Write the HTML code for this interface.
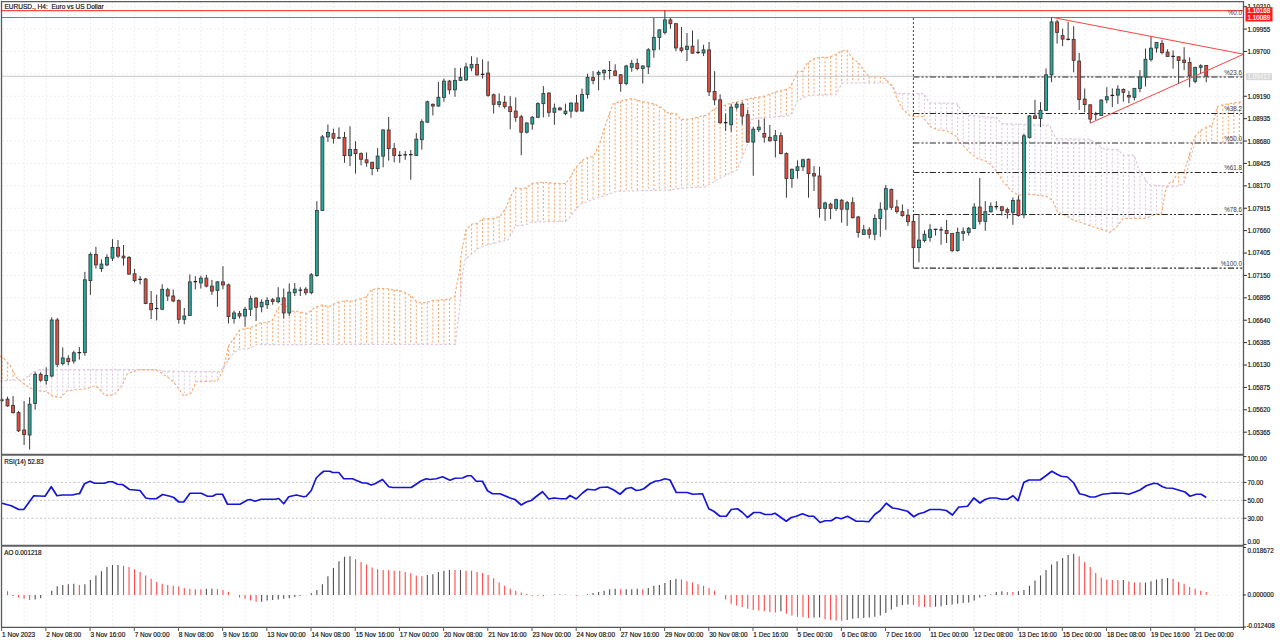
<!DOCTYPE html>
<html><head><meta charset="utf-8"><style>
html,body{margin:0;padding:0;background:#fff;}
body{width:1280px;height:642px;overflow:hidden;}
svg{display:block;}
.t{font-family:"Liberation Sans",sans-serif;font-size:6.8px;fill:#111;stroke:#111;stroke-width:0.18px;}
.t2{font-family:"Liberation Sans",sans-serif;font-size:6.6px;fill:#1a1a1a;}
</style></head><body>
<svg width="1280" height="642" viewBox="0 0 1280 642">
<rect width="1280" height="642" fill="#fff"/>
<path d="M24.20 2V454M24.20 456V545M24.20 547V627M46.29 2V454M46.29 456V545M46.29 547V627M68.39 2V454M68.39 456V545M68.39 547V627M90.48 2V454M90.48 456V545M90.48 547V627M112.58 2V454M112.58 456V545M112.58 547V627M134.68 2V454M134.68 456V545M134.68 547V627M156.77 2V454M156.77 456V545M156.77 547V627M178.87 2V454M178.87 456V545M178.87 547V627M200.96 2V454M200.96 456V545M200.96 547V627M223.06 2V454M223.06 456V545M223.06 547V627M245.16 2V454M245.16 456V545M245.16 547V627M267.25 2V454M267.25 456V545M267.25 547V627M289.35 2V454M289.35 456V545M289.35 547V627M311.44 2V454M311.44 456V545M311.44 547V627M333.54 2V454M333.54 456V545M333.54 547V627M355.64 2V454M355.64 456V545M355.64 547V627M377.73 2V454M377.73 456V545M377.73 547V627M399.83 2V454M399.83 456V545M399.83 547V627M421.92 2V454M421.92 456V545M421.92 547V627M444.02 2V454M444.02 456V545M444.02 547V627M466.12 2V454M466.12 456V545M466.12 547V627M488.21 2V454M488.21 456V545M488.21 547V627M510.31 2V454M510.31 456V545M510.31 547V627M532.40 2V454M532.40 456V545M532.40 547V627M554.50 2V454M554.50 456V545M554.50 547V627M576.60 2V454M576.60 456V545M576.60 547V627M598.69 2V454M598.69 456V545M598.69 547V627M620.79 2V454M620.79 456V545M620.79 547V627M642.88 2V454M642.88 456V545M642.88 547V627M664.98 2V454M664.98 456V545M664.98 547V627M687.08 2V454M687.08 456V545M687.08 547V627M709.17 2V454M709.17 456V545M709.17 547V627M731.27 2V454M731.27 456V545M731.27 547V627M753.36 2V454M753.36 456V545M753.36 547V627M775.46 2V454M775.46 456V545M775.46 547V627M797.56 2V454M797.56 456V545M797.56 547V627M819.65 2V454M819.65 456V545M819.65 547V627M841.75 2V454M841.75 456V545M841.75 547V627M863.84 2V454M863.84 456V545M863.84 547V627M885.94 2V454M885.94 456V545M885.94 547V627M908.04 2V454M908.04 456V545M908.04 547V627M930.13 2V454M930.13 456V545M930.13 547V627M952.23 2V454M952.23 456V545M952.23 547V627M974.32 2V454M974.32 456V545M974.32 547V627M996.42 2V454M996.42 456V545M996.42 547V627M1018.52 2V454M1018.52 456V545M1018.52 547V627M1040.61 2V454M1040.61 456V545M1040.61 547V627M1062.71 2V454M1062.71 456V545M1062.71 547V627M1084.80 2V454M1084.80 456V545M1084.80 547V627M1106.90 2V454M1106.90 456V545M1106.90 547V627M1129.00 2V454M1129.00 456V545M1129.00 547V627M1151.09 2V454M1151.09 456V545M1151.09 547V627M1173.19 2V454M1173.19 456V545M1173.19 547V627M1195.28 2V454M1195.28 456V545M1195.28 547V627M1217.38 2V454M1217.38 456V545M1217.38 547V627M1239.48 2V454M1239.48 456V545M1239.48 547V627" stroke="#efeff2" stroke-width="1" stroke-dasharray="2 2" fill="none"/>
<path d="M2 6.68H1243.5M2 29.08H1243.5M2 51.47H1243.5M2 73.87H1243.5M2 96.26H1243.5M2 118.66H1243.5M2 141.06H1243.5M2 163.45H1243.5M2 185.85H1243.5M2 208.24H1243.5M2 230.64H1243.5M2 253.04H1243.5M2 275.43H1243.5M2 297.83H1243.5M2 320.22H1243.5M2 342.62H1243.5M2 365.02H1243.5M2 387.41H1243.5M2 409.81H1243.5M2 432.20H1243.5" stroke="#efeff2" stroke-width="1" stroke-dasharray="2 2" fill="none"/>
<path d="M2 482.38H1243.5M2 500.33H1243.5M2 518.28H1243.5" stroke="#c6c6c6" stroke-width="1" stroke-dasharray="2.2 2" fill="none"/>
<path d="M2 595H1243.5" stroke="#efeff2" stroke-width="1" stroke-dasharray="2 2" fill="none"/>
<path d="M24.10 378.99V384.05M29.62 374.96V387.63M35.14 371.17V389.58M40.67 369.60V391.20M46.19 369.60V391.55M51.72 369.60V395.52M57.24 369.60V396.84M62.76 369.60V395.36M68.29 369.60V390.59M73.81 369.60V390.12M79.34 369.60V389.49M84.86 369.60V388.86M90.38 369.60V387.32M95.91 369.60V386.01M101.43 369.60V391.59M106.96 369.60V395.58M112.48 369.60V394.68M118.00 369.60V390.37M123.53 369.60V382.11M129.05 369.60V373.07M134.58 369.60V371.20M140.10 369.60V369.80M145.62 369.60V369.80M151.15 369.60V369.80M156.67 369.71V370.17M162.20 370.82V373.72M167.72 371.14V377.26M173.24 371.20V382.04M178.77 371.26V388.88M184.29 371.32V395.77M189.82 371.38V393.90M195.34 371.44V383.26M200.86 371.50V381.54M206.39 371.56V381.36M211.91 371.62V381.17M217.44 371.68V380.57M222.96 367.51V370.59M891.36 84.60V85.79M896.89 93.60V98.18M902.41 93.60V108.78M907.94 93.60V113.87M913.46 93.60V116.37M918.98 93.60V116.50M924.51 94.80V119.02M930.03 102.91V125.88M935.56 103.02V128.93M941.08 103.12V130.34M946.60 103.22V130.69M952.13 103.32V133.76M957.65 105.12V138.98M963.18 112.50V145.73M968.70 115.13V151.48M974.22 115.67V155.97M979.75 116.21V159.17M985.27 116.70V161.00M990.80 117.13V165.10M996.32 117.56V170.81M1001.84 123.63V179.70M1007.37 123.85V186.39M1012.89 124.06V191.81M1018.42 124.28V195.09M1023.94 124.49V194.66M1029.46 124.70V194.39M1034.99 124.92V194.94M1040.51 125.13V195.48M1046.04 125.35V196.21M1051.56 129.79V199.65M1057.08 138.63V210.85M1062.61 138.75V214.24M1068.13 138.88V216.86M1073.66 139.01V220.17M1079.18 139.14V221.91M1084.70 139.26V223.89M1090.23 139.39V225.87M1095.75 143.73V227.62M1101.28 147.07V229.35M1106.80 149.05V231.38M1112.32 149.37V230.47M1117.85 149.69V225.56M1123.37 154.91V218.30M1128.90 155.16V218.30M1134.42 155.79V218.30M1139.94 171.42V218.30M1145.47 179.74V218.27M1150.99 185.02V216.09M1156.52 185.34V214.31M1162.04 185.67V210.88" stroke="#dcc8e0" stroke-width="1.1" stroke-dasharray="2 2" fill="none"/>
<path d="M2.00 356.96V380.87M7.52 362.48V380.52M13.05 371.00V380.16M18.57 379.45V379.81M228.48 346.08V360.00M234.01 338.09V353.14M239.53 330.10V349.21M245.06 328.59V348.78M250.58 327.71V348.07M256.10 324.92V344.89M261.63 322.86V344.59M267.15 322.42V344.58M272.68 319.31V344.58M278.20 308.22V344.57M283.72 305.34V344.56M289.25 308.46V344.55M294.77 311.40V344.54M300.30 311.92V344.53M305.82 313.24V344.53M311.34 310.26V344.52M316.87 306.70V344.51M322.39 304.96V344.50M327.92 306.62V344.49M333.44 304.33V344.48M338.96 302.10V344.48M344.49 300.87V344.47M350.01 301.00V344.46M355.54 300.31V344.45M361.06 298.55V344.44M366.58 296.27V344.43M372.11 289.68V344.43M377.63 288.41V344.42M383.16 288.57V344.41M388.68 288.95V344.40M394.20 289.97V344.39M399.73 290.59V344.38M405.25 292.67V344.38M410.78 295.91V344.37M416.30 301.31V344.36M421.82 302.92V344.35M427.35 302.38V344.34M432.87 300.45V344.33M438.40 300.04V344.33M443.92 299.63V344.32M449.44 298.89V344.31M454.97 295.27V344.30M460.49 261.60V297.52M466.02 229.68V258.82M471.54 224.19V254.07M477.06 223.31V249.31M482.59 219.09V246.69M488.11 218.65V244.64M493.64 218.28V243.38M499.16 216.37V242.12M504.68 209.52V240.86M510.21 197.26V235.92M515.73 187.85V226.06M521.26 188.66V225.48M526.78 187.66V224.27M532.30 183.49V222.00M537.83 182.80V221.90M543.35 182.12V221.80M548.88 182.77V221.70M554.40 183.46V221.60M559.92 183.50V221.51M565.45 183.50V221.41M570.97 175.80V215.53M576.50 166.60V208.88M582.02 161.08V203.66M587.54 157.76V201.59M593.07 156.38V199.53M598.59 145.84V197.50M604.12 128.64V195.64M609.64 113.27V193.78M615.16 103.23V191.92M620.69 101.25V191.13M626.21 99.67V191.01M631.74 98.66V190.90M637.26 100.05V190.78M642.78 101.69V190.67M648.31 102.79V190.55M653.83 103.89V190.43M659.36 106.48V190.32M664.88 110.52V190.20M670.40 113.07V189.98M675.93 113.77V189.01M681.45 119.39V188.22M686.98 119.17V187.94M692.50 118.50V187.65M698.02 117.13V187.36M703.55 115.76V187.07M709.07 113.40V184.53M714.60 108.76V181.26M720.12 106.78V178.23M725.64 104.97V175.46M731.17 103.26V172.68M736.69 101.88V169.91M742.22 100.50V157.36M747.74 99.11V141.74M753.26 98.02V119.03M758.79 97.09V118.19M764.31 96.17V117.77M769.84 94.15V117.34M775.36 92.14V116.91M780.88 90.75V116.49M786.41 89.09V116.06M791.93 83.74V113.35M797.46 72.14V100.88M802.98 70.49V97.87M808.50 62.45V95.48M814.03 58.65V95.24M819.55 57.31V95.08M825.08 57.30V94.92M830.60 56.65V94.76M836.12 54.32V94.37M841.65 50.96V84.03M847.17 50.59V83.00M852.70 58.30V83.00M858.22 62.49V83.00M863.74 70.03V83.00M869.27 76.57V83.00M874.79 76.70V83.00M880.32 76.70V83.00M885.84 79.30V83.00M1167.56 185.91V186.22M1173.09 181.06V186.80M1178.61 172.60V185.60M1184.14 172.15V182.98M1189.66 153.96V161.88M1195.18 136.37V143.00M1200.71 130.63V143.00M1206.23 127.30V143.00M1211.76 125.84V143.00M1217.28 107.18V143.00M1222.80 104.86V143.00M1228.33 103.87V143.00M1233.85 102.91V143.00M1239.38 102.10V143.00" stroke="#f6ac74" stroke-width="1.1" stroke-dasharray="2 2" fill="none"/>
<path d="M0.0 381.0L23.4 379.5L34.5 371.4L39.6 369.6L156.1 369.6L163.6 371.1L219.7 371.7L226.0 363.6L232.0 354.9L238.4 349.3L250.0 348.4L256.6 344.6L455.3 344.3L459.7 307.4L462.2 276.2L465.0 259.7L478.0 248.5L487.4 244.8L508.0 240.1L515.4 226.1L524.8 225.1L532.2 222.0L565.9 221.4L570.0 216.7L580.3 204.3L597.7 197.8L617.3 191.2L669.7 190.1L680.0 188.3L704.9 187.0L717.4 179.6L737.3 169.6L747.3 144.7L751.0 119.8L754.8 118.5L787.2 116.0L791.6 114.1L797.8 100.1L808.7 95.4L836.0 94.6L842.2 83.0L888.1 83.0L892.8 85.3L896.5 93.6L923.8 93.6L929.3 102.9L956.5 103.4L962.0 111.6L966.3 114.9L982.7 116.5L996.9 117.6L1001.0 123.6L1050.0 125.5L1052.0 131.0L1056.0 138.6L1090.6 139.4L1095.7 143.7L1104.3 148.9L1118.0 149.7L1123.1 154.9L1134.3 155.4L1138.6 169.4L1148.9 184.9L1162.6 185.7L1175.0 187.0L1184.0 183.5L1193.4 147.6L1195.0 143.0L1241.0 143.0" stroke="#dcc8e0" stroke-width="1.2" stroke-dasharray="2.5 2" fill="none"/>
<path d="M0.0 356.0L2.5 357.2L10.2 365.3L16.3 377.5L23.4 383.6L30.5 388.2L40.6 391.2L45.7 391.2L52.8 396.3L61.0 397.3L67.0 390.7L73.1 390.2L86.3 388.7L95.5 385.6L105.6 395.8L114.8 394.3L121.9 385.6L127.5 373.6L138.7 369.8L156.1 369.8L169.8 378.6L176.0 384.8L183.6 396.0L191.0 393.5L196.0 381.7L217.2 381.0L223.4 369.8L228.4 346.2L239.6 330.0L245.0 328.6L250.0 328.0L259.9 323.0L267.4 322.4L272.4 319.9L277.4 309.3L281.1 304.3L287.4 306.8L292.3 311.2L299.8 311.8L307.3 313.6L314.8 307.4L322.2 304.9L328.5 306.8L333.5 304.3L339.7 301.8L345.9 300.6L352.1 301.2L357.1 299.9L366.2 296.8L371.2 289.9L377.4 288.4L387.4 288.7L393.6 289.9L399.8 290.6L404.8 292.4L412.3 296.8L416.0 301.2L421.0 303.0L427.3 302.4L432.2 300.5L448.4 299.3L454.7 296.8L457.2 282.5L459.7 270.0L461.2 254.1L465.9 229.8L471.5 224.2L477.1 223.3L482.7 219.0L494.9 218.2L500.5 215.8L506.1 207.4L509.8 198.0L515.4 187.8L521.0 188.7L526.6 187.8L532.2 183.5L543.5 182.1L554.7 183.5L565.9 183.5L570.0 177.5L575.9 167.2L584.6 158.5L593.4 156.3L599.9 143.2L604.3 128.0L613.0 104.0L623.9 100.1L632.6 98.5L641.3 101.4L654.4 104.0L661.0 107.3L667.5 112.7L676.2 113.8L680.6 119.3L683.4 119.6L692.5 118.5L707.4 114.8L714.9 108.5L729.8 103.6L749.8 98.6L764.7 96.1L774.7 92.3L784.7 89.8L790.0 87.6L796.2 75.2L797.8 71.3L802.5 71.3L807.1 63.5L813.4 58.8L819.6 57.3L828.9 57.3L835.2 54.9L841.4 51.0L846.9 50.2L852.3 58.0L858.5 62.7L866.3 73.6L869.4 76.7L881.9 76.7L886.6 79.8L892.8 87.6L896.5 97.4L902.0 108.4L909.6 115.4L914.0 116.5L922.7 116.5L927.0 122.5L931.4 127.4L939.0 130.2L946.7 130.7L955.4 135.6L959.8 142.2L968.6 151.4L977.1 158.3L987.4 161.7L996.0 170.3L1002.9 181.4L1011.4 190.9L1018.3 195.1L1028.6 194.3L1045.7 196.0L1052.6 200.3L1057.7 212.3L1066.3 215.7L1073.1 220.0L1078.6 221.7L1090.6 226.0L1104.3 230.3L1109.4 232.5L1116.3 227.7L1123.1 218.3L1145.4 218.3L1154.0 214.9L1161.7 213.1L1163.4 202.0L1166.0 188.3L1169.4 183.1L1172.9 181.4L1177.8 172.6L1184.0 172.6L1194.9 136.7L1199.6 131.3L1207.4 126.6L1212.0 125.8L1217.5 106.4L1223.0 104.8L1238.5 102.1L1241.0 102.1" stroke="#f6ac74" stroke-width="1.15" stroke-dasharray="2.5 2" fill="none"/>
<path d="M2 76.3H1243.5" stroke="#c8c8c8" stroke-width="1" fill="none"/>
<path d="M2 10.6H1243.5M2 17.5H1243.5" stroke="#ff4a4a" stroke-width="1.05" fill="none"/>
<path d="M913.4 77.02H1243.5M913.4 113.54H1243.5M913.4 143.05H1243.5M913.4 172.56H1243.5M913.4 214.58H1243.5M913.4 268.10H1243.5" stroke="#2a2a2a" stroke-width="1.05" stroke-dasharray="6.2 2.07 2.07 2.07 2.07 2.08" stroke-dashoffset="0.2" fill="none"/>
<path d="M913.4 18.0V214" stroke="#404040" stroke-width="1" stroke-dasharray="2 2" fill="none"/>
<path d="M913.4 214V268.1" stroke="#404040" stroke-width="1" fill="none"/>
<text x="1242.00" y="14.70" class="t" text-anchor="end" style="fill:#3a3a3a;stroke:none" textLength="14.26" lengthAdjust="spacingAndGlyphs">%0.0</text>
<text x="1242.00" y="74.60" class="t" text-anchor="end" style="fill:#3a3a3a;stroke:none" textLength="17.74" lengthAdjust="spacingAndGlyphs">%23.6</text>
<text x="1242.00" y="111.00" class="t" text-anchor="end" style="fill:#3a3a3a;stroke:none" textLength="17.74" lengthAdjust="spacingAndGlyphs">%38.2</text>
<text x="1242.00" y="140.60" class="t" text-anchor="end" style="fill:#3a3a3a;stroke:none" textLength="17.74" lengthAdjust="spacingAndGlyphs">%50.0</text>
<text x="1242.00" y="170.20" class="t" text-anchor="end" style="fill:#3a3a3a;stroke:none" textLength="17.74" lengthAdjust="spacingAndGlyphs">%61.8</text>
<text x="1242.00" y="212.00" class="t" text-anchor="end" style="fill:#3a3a3a;stroke:none" textLength="17.74" lengthAdjust="spacingAndGlyphs">%78.6</text>
<text x="1242.00" y="266.00" class="t" text-anchor="end" style="fill:#3a3a3a;stroke:none" textLength="21.22" lengthAdjust="spacingAndGlyphs">%100.0</text>
<path d="M2.00 398.50V402.00M7.52 396.70V406.70M13.05 396.00V413.60M18.57 410.90V432.00M24.10 401.00V445.00M29.62 397.20V449.50M35.14 372.30V409.70M40.67 372.30V381.70M46.19 367.30V384.70M51.72 317.40V377.30M57.24 318.00V367.30M62.76 347.40V365.30M68.29 355.30V365.30M73.81 350.60V363.60M79.34 347.00V359.70M84.86 271.80V355.80M90.38 252.40V294.80M95.91 246.90V268.60M101.43 259.40V271.80M106.96 254.40V266.10M112.48 239.20V261.10M118.00 240.00V257.90M123.53 245.00V265.60M129.05 256.10V274.80M134.58 268.80V282.30M140.10 276.00V284.30M145.62 278.00V304.20M151.15 291.00V319.00M156.67 294.80V320.40M162.20 284.30V310.20M167.72 287.80V301.00M173.24 289.60V302.20M178.77 299.30V323.50M184.29 308.00V324.30M189.82 274.40V316.00M195.34 276.20V289.40M200.86 275.70V288.60M206.39 274.90V287.40M211.91 279.90V294.90M217.44 281.20V306.80M222.96 266.20V289.40M228.48 283.60V323.50M234.01 310.60V323.50M239.53 311.00V318.50M245.06 306.80V326.80M250.58 295.60V316.00M256.10 297.40V321.00M261.63 299.30V312.30M267.15 297.20V308.90M272.68 297.90V304.70M278.20 287.20V303.40M283.72 288.50V318.40M289.25 283.50V315.90M294.77 283.00V296.00M300.30 287.20V296.00M305.82 287.20V295.20M311.34 273.00V294.20M316.87 201.20V276.80M322.39 134.90V210.90M327.92 124.50V141.90M333.44 128.70V143.60M338.96 127.40V138.70M344.49 131.90V162.80M350.01 126.20V166.10M355.54 141.20V173.60M361.06 152.40V165.30M366.58 152.40V166.80M372.11 161.80V175.30M377.63 148.10V171.80M383.16 129.40V167.30M388.68 117.00V160.60M394.20 143.10V162.30M399.73 151.10V162.80M405.25 151.10V159.80M410.78 150.00V179.70M416.30 133.00V155.90M421.82 119.30V149.70M427.35 100.60V122.70M432.87 103.60V115.50M438.40 81.90V106.80M443.92 78.60V101.80M449.44 79.90V94.30M454.97 67.90V96.80M460.49 67.90V81.10M466.02 62.90V81.10M471.54 56.20V71.20M477.06 57.40V75.60M482.59 59.40V78.60M488.11 61.20V96.80M493.64 93.60V113.50M499.16 93.30V107.30M504.68 95.80V108.60M510.21 96.10V129.30M515.73 97.40V121.80M521.26 114.80V155.20M526.78 122.30V133.50M532.30 116.00V129.70M537.83 102.30V117.80M543.35 86.10V117.30M548.88 92.40V116.80M554.40 103.60V124.80M559.92 106.80V110.60M565.45 103.60V115.30M570.97 102.30V117.80M576.50 94.90V112.30M582.02 88.60V111.10M587.54 73.70V98.60M593.07 71.10V84.30M598.59 70.50V90.20M604.12 69.30V80.20M609.64 61.00V79.30M615.16 64.30V76.00M620.69 74.30V91.70M626.21 64.80V85.20M631.74 59.80V71.80M637.26 58.60V70.30M642.78 65.30V83.50M648.31 48.10V74.00M653.83 17.90V57.80M659.36 29.40V49.80M664.88 10.50V34.40M670.40 17.90V28.70M675.93 22.90V51.10M681.45 27.00V52.60M686.98 33.00V61.10M692.50 30.50V53.60M698.02 39.40V54.10M703.55 44.90V56.10M709.07 41.90V96.00M714.60 71.10V105.20M720.12 94.30V123.40M725.64 113.50V130.90M731.17 104.20V131.70M736.69 102.20V109.70M742.22 102.20V124.70M747.74 109.70V142.60M753.26 126.70V175.80M758.79 119.70V132.10M764.31 118.40V142.60M769.84 125.00V141.60M775.36 130.00V157.40M780.88 132.40V154.40M786.41 152.40V197.70M791.93 168.60V187.80M797.46 160.30V178.50M802.98 158.60V171.10M808.50 158.60V197.70M814.03 166.10V191.00M819.55 166.80V217.70M825.08 201.70V220.90M830.60 202.70V219.20M836.12 198.50V210.90M841.65 199.20V222.60M847.17 201.00V225.90M852.70 197.20V218.40M858.22 215.90V237.60M863.74 224.80V234.70M869.27 227.30V238.50M874.79 214.30V240.20M880.32 202.30V236.70M885.84 184.90V229.80M891.36 188.60V209.80M896.89 199.80V213.50M902.41 204.50V216.80M907.94 209.00V225.80M913.46 214.00V248.40M918.98 214.70V262.30M924.51 230.30V242.40M930.03 224.30V241.70M935.56 228.90V235.50M941.08 226.80V244.60M946.60 219.90V243.00M952.13 233.00V252.30M957.65 227.70V251.70M963.18 227.50V240.90M968.70 227.00V235.50M974.22 203.20V228.50M979.75 178.00V224.50M985.27 201.10V230.80M990.80 202.40V212.60M996.32 201.10V209.60M1001.84 206.40V215.50M1007.37 207.60V218.60M1012.89 197.40V224.80M1018.42 195.50V216.70M1023.94 134.00V218.30M1029.46 115.10V138.30M1034.99 99.70V119.10M1040.51 102.20V127.10M1046.04 68.50V110.90M1051.56 17.40V82.20M1057.08 19.90V43.60M1062.61 28.70V46.10M1068.13 21.90V40.40M1073.66 26.20V72.30M1079.18 52.90V110.00M1084.70 88.50V112.40M1090.23 104.50V123.10M1095.75 111.80V120.00M1101.28 99.30V115.70M1106.80 87.30V103.20M1112.32 88.40V107.10M1117.85 85.30V104.00M1123.37 88.40V101.70M1128.90 91.10V103.20M1134.42 87.90V100.40M1139.94 70.20V92.30M1145.47 48.50V86.50M1150.99 37.00V61.60M1156.52 42.20V52.60M1162.04 39.90V54.30M1167.56 49.30V56.80M1173.09 50.50V68.60M1178.61 56.50V83.60M1184.14 47.20V70.10M1189.66 57.40V87.30M1195.18 66.70V83.30M1200.71 64.20V73.60M1206.23 65.10V82.30" stroke="#3a3a3a" stroke-width="1" fill="none"/>
<path d="M0.20 400.20H3.80M77.54 352.70H81.14M138.30 279.30H141.90M154.87 308.50H158.47M193.54 281.70H197.14M298.50 290.20H302.10M337.16 137.90H340.76M397.93 155.40H401.53M403.45 154.90H407.05M408.98 154.70H412.58M480.79 74.40H484.39M607.84 70.50H611.44M696.22 52.40H699.82M723.84 122.70H727.44M933.76 229.30H937.36M939.28 229.90H942.88M994.52 206.70H998.12M1066.33 39.40H1069.93M1093.95 114.10H1097.55M1110.52 95.40H1114.12M1171.29 56.40H1174.89" stroke="#222" stroke-width="1.2" fill="none"/>
<g fill="#22aa9d" stroke="#3c3c3c" stroke-width="0.9"><rect x="28.17" y="404.20" width="2.9" height="30.80"/><rect x="33.69" y="374.30" width="2.9" height="29.10"/><rect x="44.74" y="375.50" width="2.9" height="5.00"/><rect x="50.27" y="320.00" width="2.9" height="56.00"/><rect x="61.31" y="358.00" width="2.9" height="5.60"/><rect x="72.36" y="352.80" width="2.9" height="8.20"/><rect x="83.41" y="279.80" width="2.9" height="72.80"/><rect x="88.93" y="254.40" width="2.9" height="26.20"/><rect x="99.98" y="264.10" width="2.9" height="4.50"/><rect x="105.51" y="257.40" width="2.9" height="7.50"/><rect x="111.03" y="247.40" width="2.9" height="10.70"/><rect x="160.75" y="289.30" width="2.9" height="19.90"/><rect x="182.84" y="316.00" width="2.9" height="3.30"/><rect x="188.37" y="281.90" width="2.9" height="33.60"/><rect x="199.41" y="278.20" width="2.9" height="4.70"/><rect x="215.99" y="281.90" width="2.9" height="8.50"/><rect x="232.56" y="313.00" width="2.9" height="5.50"/><rect x="243.61" y="309.30" width="2.9" height="6.70"/><rect x="249.13" y="298.60" width="2.9" height="10.70"/><rect x="260.18" y="302.30" width="2.9" height="4.50"/><rect x="265.70" y="300.40" width="2.9" height="4.30"/><rect x="276.75" y="297.90" width="2.9" height="3.80"/><rect x="287.80" y="292.20" width="2.9" height="20.70"/><rect x="293.32" y="289.20" width="2.9" height="3.50"/><rect x="309.89" y="274.80" width="2.9" height="17.90"/><rect x="315.42" y="210.50" width="2.9" height="65.00"/><rect x="320.94" y="136.90" width="2.9" height="73.50"/><rect x="326.47" y="132.40" width="2.9" height="4.50"/><rect x="348.56" y="149.40" width="2.9" height="6.20"/><rect x="376.18" y="156.10" width="2.9" height="12.50"/><rect x="381.71" y="130.00" width="2.9" height="26.10"/><rect x="414.85" y="139.20" width="2.9" height="16.20"/><rect x="420.37" y="121.70" width="2.9" height="18.00"/><rect x="425.90" y="101.80" width="2.9" height="20.40"/><rect x="436.95" y="97.30" width="2.9" height="8.70"/><rect x="442.47" y="81.10" width="2.9" height="16.20"/><rect x="453.52" y="80.40" width="2.9" height="9.40"/><rect x="459.04" y="77.40" width="2.9" height="3.00"/><rect x="464.57" y="66.90" width="2.9" height="13.00"/><rect x="470.09" y="64.40" width="2.9" height="3.50"/><rect x="497.71" y="101.80" width="2.9" height="2.70"/><rect x="525.33" y="123.00" width="2.9" height="9.20"/><rect x="530.85" y="117.30" width="2.9" height="6.70"/><rect x="536.38" y="103.60" width="2.9" height="13.70"/><rect x="541.90" y="93.60" width="2.9" height="10.00"/><rect x="552.95" y="108.10" width="2.9" height="4.20"/><rect x="564.00" y="111.10" width="2.9" height="2.50"/><rect x="569.52" y="103.10" width="2.9" height="8.00"/><rect x="580.57" y="94.40" width="2.9" height="16.70"/><rect x="586.09" y="77.40" width="2.9" height="17.00"/><rect x="597.14" y="72.30" width="2.9" height="2.00"/><rect x="602.67" y="70.30" width="2.9" height="2.50"/><rect x="624.76" y="66.00" width="2.9" height="17.50"/><rect x="630.29" y="63.60" width="2.9" height="3.70"/><rect x="641.33" y="66.00" width="2.9" height="2.50"/><rect x="646.86" y="49.80" width="2.9" height="17.00"/><rect x="652.38" y="37.40" width="2.9" height="12.40"/><rect x="657.91" y="29.90" width="2.9" height="7.50"/><rect x="663.43" y="19.90" width="2.9" height="12.50"/><rect x="685.53" y="46.20" width="2.9" height="3.20"/><rect x="702.10" y="49.90" width="2.9" height="3.00"/><rect x="729.72" y="107.20" width="2.9" height="17.50"/><rect x="735.24" y="104.20" width="2.9" height="3.00"/><rect x="751.81" y="129.20" width="2.9" height="12.90"/><rect x="757.34" y="127.20" width="2.9" height="2.50"/><rect x="773.91" y="135.70" width="2.9" height="4.70"/><rect x="790.48" y="169.30" width="2.9" height="9.20"/><rect x="796.01" y="166.80" width="2.9" height="3.80"/><rect x="801.53" y="159.80" width="2.9" height="7.00"/><rect x="823.63" y="203.00" width="2.9" height="5.40"/><rect x="834.67" y="199.70" width="2.9" height="8.70"/><rect x="845.72" y="202.70" width="2.9" height="6.50"/><rect x="862.29" y="229.80" width="2.9" height="4.60"/><rect x="873.34" y="218.50" width="2.9" height="15.70"/><rect x="878.87" y="209.30" width="2.9" height="9.20"/><rect x="884.39" y="188.60" width="2.9" height="20.70"/><rect x="917.53" y="240.10" width="2.9" height="7.50"/><rect x="923.06" y="234.30" width="2.9" height="6.20"/><rect x="928.58" y="229.70" width="2.9" height="7.70"/><rect x="956.20" y="232.40" width="2.9" height="18.10"/><rect x="961.73" y="231.70" width="2.9" height="1.60"/><rect x="967.25" y="228.30" width="2.9" height="4.20"/><rect x="972.77" y="207.10" width="2.9" height="21.40"/><rect x="983.82" y="211.70" width="2.9" height="9.60"/><rect x="989.35" y="206.40" width="2.9" height="5.30"/><rect x="1011.44" y="200.50" width="2.9" height="11.80"/><rect x="1022.49" y="135.80" width="2.9" height="79.00"/><rect x="1028.01" y="115.90" width="2.9" height="21.70"/><rect x="1039.06" y="110.40" width="2.9" height="8.00"/><rect x="1044.59" y="74.80" width="2.9" height="35.60"/><rect x="1050.11" y="21.90" width="2.9" height="52.90"/><rect x="1099.83" y="100.10" width="2.9" height="15.30"/><rect x="1105.35" y="96.70" width="2.9" height="3.10"/><rect x="1116.40" y="89.20" width="2.9" height="5.90"/><rect x="1132.97" y="88.40" width="2.9" height="8.90"/><rect x="1138.49" y="77.00" width="2.9" height="11.40"/><rect x="1144.02" y="59.30" width="2.9" height="17.80"/><rect x="1149.54" y="48.20" width="2.9" height="11.20"/><rect x="1155.07" y="42.40" width="2.9" height="5.60"/><rect x="1193.73" y="67.40" width="2.9" height="13.90"/><rect x="1199.26" y="65.80" width="2.9" height="1.50"/></g>
<g fill="#ec4a3d" stroke="#3c3c3c" stroke-width="0.9"><rect x="6.07" y="399.20" width="2.9" height="6.70"/><rect x="11.60" y="405.40" width="2.9" height="7.20"/><rect x="17.12" y="412.60" width="2.9" height="18.20"/><rect x="22.65" y="430.00" width="2.9" height="4.60"/><rect x="39.22" y="374.30" width="2.9" height="5.90"/><rect x="55.79" y="320.00" width="2.9" height="44.30"/><rect x="66.84" y="358.60" width="2.9" height="3.00"/><rect x="94.46" y="254.40" width="2.9" height="10.50"/><rect x="116.55" y="247.40" width="2.9" height="8.70"/><rect x="122.08" y="256.10" width="2.9" height="1.80"/><rect x="127.60" y="257.40" width="2.9" height="16.70"/><rect x="133.13" y="273.80" width="2.9" height="6.80"/><rect x="144.17" y="279.00" width="2.9" height="24.50"/><rect x="149.70" y="303.50" width="2.9" height="6.20"/><rect x="166.27" y="289.80" width="2.9" height="6.20"/><rect x="171.79" y="296.00" width="2.9" height="5.00"/><rect x="177.32" y="300.60" width="2.9" height="18.70"/><rect x="204.94" y="278.20" width="2.9" height="7.90"/><rect x="210.46" y="286.10" width="2.9" height="5.00"/><rect x="221.51" y="281.90" width="2.9" height="3.00"/><rect x="227.03" y="284.90" width="2.9" height="31.60"/><rect x="238.08" y="313.60" width="2.9" height="2.40"/><rect x="254.65" y="298.10" width="2.9" height="9.20"/><rect x="271.23" y="299.70" width="2.9" height="1.70"/><rect x="282.27" y="297.90" width="2.9" height="15.00"/><rect x="304.37" y="289.20" width="2.9" height="3.50"/><rect x="331.99" y="133.70" width="2.9" height="4.50"/><rect x="343.04" y="137.40" width="2.9" height="18.20"/><rect x="354.09" y="149.40" width="2.9" height="4.20"/><rect x="359.61" y="153.60" width="2.9" height="5.70"/><rect x="365.13" y="159.80" width="2.9" height="3.00"/><rect x="370.66" y="162.30" width="2.9" height="6.30"/><rect x="387.23" y="130.00" width="2.9" height="18.60"/><rect x="392.75" y="148.60" width="2.9" height="6.80"/><rect x="431.42" y="104.30" width="2.9" height="1.70"/><rect x="447.99" y="81.10" width="2.9" height="8.70"/><rect x="475.61" y="64.40" width="2.9" height="10.50"/><rect x="486.66" y="73.10" width="2.9" height="22.20"/><rect x="492.19" y="94.80" width="2.9" height="9.50"/><rect x="503.23" y="102.30" width="2.9" height="4.20"/><rect x="508.76" y="106.80" width="2.9" height="4.80"/><rect x="514.28" y="111.10" width="2.9" height="6.20"/><rect x="519.81" y="116.80" width="2.9" height="15.40"/><rect x="547.43" y="93.10" width="2.9" height="19.20"/><rect x="558.47" y="108.10" width="2.9" height="1.70"/><rect x="575.05" y="103.10" width="2.9" height="8.00"/><rect x="591.62" y="77.60" width="2.9" height="2.80"/><rect x="613.71" y="71.00" width="2.9" height="4.30"/><rect x="619.24" y="74.80" width="2.9" height="8.70"/><rect x="635.81" y="63.60" width="2.9" height="4.90"/><rect x="668.95" y="19.90" width="2.9" height="3.80"/><rect x="674.48" y="23.70" width="2.9" height="24.20"/><rect x="680.00" y="47.90" width="2.9" height="2.50"/><rect x="691.05" y="46.20" width="2.9" height="6.90"/><rect x="707.62" y="49.90" width="2.9" height="41.90"/><rect x="713.15" y="91.50" width="2.9" height="8.30"/><rect x="718.67" y="99.80" width="2.9" height="22.90"/><rect x="740.77" y="104.20" width="2.9" height="11.80"/><rect x="746.29" y="114.70" width="2.9" height="27.40"/><rect x="762.86" y="133.40" width="2.9" height="3.70"/><rect x="768.39" y="137.30" width="2.9" height="3.50"/><rect x="779.43" y="135.70" width="2.9" height="17.90"/><rect x="784.96" y="153.60" width="2.9" height="24.90"/><rect x="807.05" y="159.30" width="2.9" height="14.30"/><rect x="812.58" y="173.60" width="2.9" height="2.40"/><rect x="818.10" y="176.00" width="2.9" height="32.40"/><rect x="829.15" y="204.20" width="2.9" height="4.20"/><rect x="840.20" y="200.20" width="2.9" height="9.00"/><rect x="851.25" y="202.70" width="2.9" height="15.00"/><rect x="856.77" y="217.00" width="2.9" height="15.40"/><rect x="867.82" y="229.80" width="2.9" height="4.40"/><rect x="889.91" y="189.40" width="2.9" height="17.90"/><rect x="895.44" y="207.00" width="2.9" height="4.50"/><rect x="900.96" y="211.60" width="2.9" height="4.00"/><rect x="906.49" y="215.20" width="2.9" height="6.40"/><rect x="912.01" y="221.40" width="2.9" height="26.20"/><rect x="945.15" y="230.50" width="2.9" height="2.90"/><rect x="950.68" y="233.40" width="2.9" height="17.10"/><rect x="978.30" y="207.10" width="2.9" height="14.20"/><rect x="1000.39" y="206.70" width="2.9" height="3.80"/><rect x="1005.92" y="209.60" width="2.9" height="2.70"/><rect x="1016.97" y="200.10" width="2.9" height="15.40"/><rect x="1033.54" y="115.90" width="2.9" height="2.50"/><rect x="1055.63" y="21.90" width="2.9" height="10.50"/><rect x="1061.16" y="35.60" width="2.9" height="3.50"/><rect x="1072.21" y="39.40" width="2.9" height="20.90"/><rect x="1077.73" y="61.10" width="2.9" height="38.40"/><rect x="1083.25" y="99.10" width="2.9" height="5.50"/><rect x="1088.78" y="104.80" width="2.9" height="14.30"/><rect x="1121.92" y="89.50" width="2.9" height="2.80"/><rect x="1127.45" y="95.50" width="2.9" height="1.50"/><rect x="1160.59" y="43.40" width="2.9" height="9.20"/><rect x="1166.11" y="52.10" width="2.9" height="4.30"/><rect x="1177.16" y="56.80" width="2.9" height="3.70"/><rect x="1182.69" y="60.10" width="2.9" height="2.30"/><rect x="1188.21" y="62.40" width="2.9" height="13.40"/><rect x="1204.78" y="65.50" width="2.9" height="10.60"/></g>
<path d="M1052.4 17.4L1243.5 54.2M1090.3 123.1L1243.5 54.2" stroke="#ff4242" stroke-width="1.0" fill="none"/>
<path d="M2.00 503.25L11.25 505.75L18.75 509.50L23.75 509.50L33.75 495.75L45.00 496.25L51.25 486.75L57.00 495.75L62.50 495.00L72.50 495.00L77.50 493.75L79.50 493.75L84.50 483.75L90.00 481.25L94.50 483.25L104.50 483.25L108.75 481.75L112.50 481.75L117.50 484.25L122.50 484.50L129.50 489.50L140.00 490.50L145.75 498.00L150.00 498.75L156.25 498.75L162.50 494.50L170.00 496.25L173.75 497.50L178.75 502.00L183.75 502.00L190.00 493.25L201.25 493.25L207.50 496.25L212.50 496.25L216.25 494.25L222.50 494.25L227.50 504.25L240.00 504.25L247.50 500.00L250.00 499.50L255.00 501.25L261.25 499.25L275.00 499.25L278.75 498.50L283.75 503.75L288.75 496.75L296.25 495.00L303.75 496.75L306.25 496.25L311.25 490.50L316.25 478.00L320.00 474.25L323.75 471.25L330.00 471.25L332.50 472.50L338.75 472.50L343.75 478.75L352.50 478.75L362.50 483.00L366.25 483.00L371.25 485.00L375.00 483.75L382.50 479.50L388.75 486.75L392.50 487.50L411.25 487.50L421.25 480.75L426.25 478.75L430.00 479.50L436.25 478.75L442.50 476.75L450.00 480.25L455.00 478.25L462.50 478.00L467.50 475.75L471.25 475.75L476.25 481.25L482.50 481.25L487.50 490.75L492.50 493.75L500.00 493.75L510.00 498.00L515.00 499.50L521.25 505.00L526.25 502.00L531.25 500.50L537.50 495.50L542.50 491.75L548.75 499.00L553.75 498.00L561.25 498.75L566.25 498.75L570.00 495.50L576.25 499.00L582.50 493.00L587.50 489.25L595.00 490.00L600.00 487.50L607.50 487.00L613.75 490.00L620.00 494.25L626.25 488.50L631.25 487.50L636.25 490.50L640.00 490.00L643.75 488.75L650.00 483.75L655.00 481.25L660.00 480.50L665.00 478.75L670.00 480.00L676.25 492.50L687.50 492.50L692.50 494.25L702.50 493.75L708.75 508.75L713.75 511.25L720.00 516.25L726.25 516.25L731.25 509.50L737.50 508.75L742.50 512.50L747.50 517.50L753.75 512.50L760.00 512.50L765.00 514.50L771.25 514.50L775.00 513.25L786.25 521.25L791.25 517.50L796.25 516.25L802.50 513.75L808.75 516.25L813.75 516.25L820.00 522.50L825.00 520.75L831.25 520.75L836.25 517.50L841.25 518.75L847.50 516.25L856.25 521.25L862.50 521.25L868.75 521.75L875.00 514.25L880.00 510.75L886.25 503.25L892.50 508.00L897.50 508.75L907.50 511.25L913.75 516.75L918.75 513.75L923.75 512.50L930.00 509.50L940.00 509.50L946.25 510.50L952.50 515.00L958.75 507.00L960.00 507.00L967.50 506.25L973.75 498.00L980.00 503.00L985.00 499.50L990.00 498.00L996.25 498.00L1001.25 499.25L1007.50 499.25L1013.00 495.75L1018.00 500.75L1023.75 482.50L1028.75 480.00L1040.00 480.00L1046.25 475.50L1051.75 471.25L1057.50 474.50L1061.25 476.25L1067.50 477.00L1073.75 483.00L1079.50 493.75L1085.00 495.00L1090.00 497.00L1095.00 497.00L1102.50 494.25L1107.50 493.75L1113.75 493.00L1122.50 493.25L1128.75 494.25L1135.00 492.00L1140.00 490.00L1146.25 485.75L1153.75 483.25L1157.50 483.75L1162.50 486.75L1166.25 488.00L1172.50 488.25L1180.00 490.50L1185.00 492.00L1190.00 496.25L1196.25 494.25L1201.25 494.25L1206.25 497.50" stroke="#1515d8" stroke-width="1.7" fill="none" stroke-linejoin="round"/>
<path d="M13.05 595V596.00M35.14 595V599.50M40.67 595V598.25M51.72 590.75V595M57.24 586.25V595M62.76 585.00V595M68.29 584.25V595M73.81 583.75V595M84.86 584.25V595M90.38 580.00V595M95.91 575.50V595M101.43 571.25V595M106.96 567.00V595M112.48 565.00V595M118.00 565.00V595M206.39 588.75V595M211.91 588.75V595M261.63 595V601.75M267.15 595V600.50M272.68 595V600.00M278.20 595V599.50M283.72 595V598.75M289.25 595V598.25M294.77 595V597.00M300.30 595V595.75M311.34 593.25V595M316.87 590.00V595M322.39 584.25V595M327.92 576.25V595M333.44 568.00V595M338.96 561.25V595M344.49 556.75V595M350.01 556.25V595M427.35 575.00V595M432.87 574.25V595M438.40 572.00V595M443.92 570.75V595M449.44 570.00V595M460.49 570.00V595M554.40 594.50V595M559.92 594.50V595M587.54 594.25V595M593.07 593.00V595M598.59 592.00V595M604.12 590.75V595M609.64 589.25V595M615.16 588.75V595M626.21 589.25V595M631.74 589.25V595M637.26 588.75V595M648.31 588.00V595M653.83 585.75V595M659.36 585.00V595M664.88 583.00V595M670.40 580.00V595M675.93 578.75V595M780.88 595V611.25M814.03 595V617.50M819.55 595V617.50M847.17 595V620.00M852.70 595V618.75M858.22 595V618.25M863.74 595V618.00M869.27 595V617.50M874.79 595V616.75M880.32 595V615.50M885.84 595V613.00M891.36 595V609.50M896.89 595V606.75M902.41 595V605.00M907.94 595V604.50M935.56 595V606.75M941.08 595V606.25M946.60 595V605.00M952.13 595V604.50M957.65 595V603.75M963.18 595V603.00M968.70 595V602.50M974.22 595V600.50M979.75 595V597.50M985.27 595V596.25M990.80 594.50V595M996.32 592.00V595M1001.84 591.25V595M1018.42 591.25V595M1023.94 590.00V595M1029.46 585.75V595M1034.99 580.50V595M1040.51 575.50V595M1046.04 570.00V595M1051.56 564.50V595M1057.08 561.25V595M1062.61 558.00V595M1068.13 555.00V595M1073.66 553.75V595M1123.37 580.00V595M1145.47 582.50V595M1150.99 581.25V595M1156.52 579.50V595M1162.04 578.75V595M1167.56 578.00V595" stroke="#505050" stroke-width="1.1" fill="none"/>
<path d="M7.52 591.25V595M18.57 595V597.50M24.10 595V598.75M29.62 595V600.00M79.34 585.00V595M123.53 565.75V595M129.05 567.00V595M134.58 569.25V595M140.10 572.00V595M145.62 575.50V595M151.15 578.75V595M156.67 582.00V595M162.20 583.75V595M167.72 585.00V595M173.24 585.75V595M178.77 586.25V595M184.29 588.00V595M189.82 588.75V595M195.34 589.25V595M200.86 589.25V595M217.44 589.25V595M222.96 590.00V595M228.48 591.75V595M239.53 595V597.50M245.06 595V598.75M250.58 595V600.50M256.10 595V601.75M355.54 559.25V595M361.06 562.00V595M366.58 564.50V595M372.11 567.50V595M377.63 569.25V595M383.16 570.00V595M388.68 570.00V595M394.20 570.75V595M399.73 570.75V595M405.25 572.00V595M410.78 573.25V595M416.30 575.50V595M421.82 576.25V595M454.97 570.00V595M466.02 570.75V595M471.54 570.75V595M477.06 572.00V595M482.59 573.00V595M488.11 575.00V595M493.64 578.25V595M499.16 582.50V595M504.68 585.75V595M510.21 588.75V595M515.73 590.75V595M521.26 592.50V595M526.78 594.00V595M532.30 595V595.75M537.83 595V595.75M543.35 595V596.25M565.45 594.50V595M576.50 595V595.75M620.69 589.25V595M642.78 589.25V595M681.45 579.50V595M686.98 581.25V595M692.50 582.50V595M698.02 584.25V595M703.55 585.75V595M709.07 588.00V595M714.60 590.75V595M725.64 595V599.50M731.17 595V603.75M736.69 595V605.50M742.22 595V607.00M747.74 595V608.75M753.26 595V610.00M758.79 595V610.50M764.31 595V611.25M769.84 595V612.00M775.36 595V612.50M786.41 595V613.75M791.93 595V615.50M797.46 595V616.75M802.98 595V617.00M808.50 595V618.00M825.08 595V619.25M830.60 595V620.00M836.12 595V620.50M841.65 595V620.75M913.46 595V605.00M918.98 595V606.75M924.51 595V607.00M930.03 595V607.00M1007.37 592.00V595M1012.89 592.00V595M1079.18 556.25V595M1084.70 562.00V595M1090.23 567.00V595M1095.75 573.00V595M1101.28 577.50V595M1106.80 579.50V595M1112.32 580.00V595M1117.85 580.00V595M1128.90 581.25V595M1134.42 582.50V595M1139.94 582.50V595M1173.09 578.75V595M1178.61 582.00V595M1184.14 583.75V595M1189.66 587.00V595M1195.18 588.75V595M1200.71 590.75V595M1206.23 592.00V595" stroke="#ff4a4a" stroke-width="1.1" fill="none"/>
<path d="M1.5 0.8V627.5M1 1.6H1244.0M1243.5 1V630" stroke="#5a5a5a" stroke-width="1.3" fill="none"/>
<path d="M1 454.8H1244.0M1 545.8H1244.0" stroke="#606060" stroke-width="2" fill="none"/>
<path d="M1 627.4H1244.0" stroke="#555" stroke-width="1.4" fill="none"/>
<text x="1247.60" y="9.13" class="t" textLength="22.61" lengthAdjust="spacingAndGlyphs">1.10210</text>
<text x="1247.60" y="31.53" class="t" textLength="22.61" lengthAdjust="spacingAndGlyphs">1.09955</text>
<text x="1247.60" y="53.92" class="t" textLength="22.61" lengthAdjust="spacingAndGlyphs">1.09700</text>
<text x="1247.60" y="98.71" class="t" textLength="22.61" lengthAdjust="spacingAndGlyphs">1.09190</text>
<text x="1247.60" y="121.11" class="t" textLength="22.61" lengthAdjust="spacingAndGlyphs">1.08935</text>
<text x="1247.60" y="143.51" class="t" textLength="22.61" lengthAdjust="spacingAndGlyphs">1.08680</text>
<text x="1247.60" y="165.90" class="t" textLength="22.61" lengthAdjust="spacingAndGlyphs">1.08425</text>
<text x="1247.60" y="188.30" class="t" textLength="22.61" lengthAdjust="spacingAndGlyphs">1.08170</text>
<text x="1247.60" y="210.69" class="t" textLength="22.61" lengthAdjust="spacingAndGlyphs">1.07915</text>
<text x="1247.60" y="233.09" class="t" textLength="22.61" lengthAdjust="spacingAndGlyphs">1.07660</text>
<text x="1247.60" y="255.49" class="t" textLength="22.61" lengthAdjust="spacingAndGlyphs">1.07405</text>
<text x="1247.60" y="277.88" class="t" textLength="22.61" lengthAdjust="spacingAndGlyphs">1.07150</text>
<text x="1247.60" y="300.28" class="t" textLength="22.61" lengthAdjust="spacingAndGlyphs">1.06895</text>
<text x="1247.60" y="322.67" class="t" textLength="22.61" lengthAdjust="spacingAndGlyphs">1.06640</text>
<text x="1247.60" y="345.07" class="t" textLength="22.61" lengthAdjust="spacingAndGlyphs">1.06385</text>
<text x="1247.60" y="367.47" class="t" textLength="22.61" lengthAdjust="spacingAndGlyphs">1.06130</text>
<text x="1247.60" y="389.86" class="t" textLength="22.61" lengthAdjust="spacingAndGlyphs">1.05875</text>
<text x="1247.60" y="412.26" class="t" textLength="22.61" lengthAdjust="spacingAndGlyphs">1.05620</text>
<text x="1247.60" y="434.65" class="t" textLength="22.61" lengthAdjust="spacingAndGlyphs">1.05365</text>
<rect x="1246" y="73.2" width="26" height="7" fill="#d9d9d9"/>
<text x="1247.60" y="79.00" class="t" style="fill:#f4f4f4;stroke:#f4f4f4" textLength="22.61" lengthAdjust="spacingAndGlyphs">1.09417</text>
<rect x="1245.5" y="7.1" width="27" height="14.4" fill="#ff1a1a"/>
<text x="1247.60" y="13.00" class="t" style="fill:#fff;stroke:#fff" textLength="22.61" lengthAdjust="spacingAndGlyphs">1.10168</text>
<text x="1247.60" y="20.00" class="t" style="fill:#fff;stroke:#fff" textLength="22.61" lengthAdjust="spacingAndGlyphs">1.10089</text>
<text x="1247.60" y="461.00" class="t" textLength="19.13" lengthAdjust="spacingAndGlyphs">100.00</text>
<text x="1247.60" y="484.83" class="t" textLength="15.66" lengthAdjust="spacingAndGlyphs">70.00</text>
<text x="1247.60" y="502.78" class="t" textLength="15.66" lengthAdjust="spacingAndGlyphs">50.00</text>
<text x="1247.60" y="520.73" class="t" textLength="15.66" lengthAdjust="spacingAndGlyphs">30.00</text>
<text x="1247.60" y="543.90" class="t" textLength="12.18" lengthAdjust="spacingAndGlyphs">0.00</text>
<text x="1247.60" y="552.50" class="t" textLength="26.09" lengthAdjust="spacingAndGlyphs">0.018672</text>
<text x="1247.60" y="597.45" class="t" textLength="26.09" lengthAdjust="spacingAndGlyphs">0.000000</text>
<text x="1246.50" y="627.60" class="t" textLength="28.18" lengthAdjust="spacingAndGlyphs">-0.012408</text>
<path d="M1243.5 6.68h3.5M1243.5 29.08h3.5M1243.5 51.47h3.5M1243.5 96.26h3.5M1243.5 118.66h3.5M1243.5 141.06h3.5M1243.5 163.45h3.5M1243.5 185.85h3.5M1243.5 208.24h3.5M1243.5 230.64h3.5M1243.5 253.04h3.5M1243.5 275.43h3.5M1243.5 297.83h3.5M1243.5 320.22h3.5M1243.5 342.62h3.5M1243.5 365.02h3.5M1243.5 387.41h3.5M1243.5 409.81h3.5M1243.5 432.20h3.5M1243.5 456.60h3M1243.5 482.38h3M1243.5 500.33h3M1243.5 518.28h3M1243.5 544.40h3M1243 547.5h3M1243 595h3M1243 627h3" stroke="#333" stroke-width="1" fill="none"/>
<text x="2.10" y="636.70" class="t" textLength="33.04" lengthAdjust="spacingAndGlyphs">1 Nov 2023</text>
<text x="46.29" y="636.70" class="t" textLength="34.84" lengthAdjust="spacingAndGlyphs">2 Nov 08:00</text>
<text x="90.48" y="636.70" class="t" textLength="34.84" lengthAdjust="spacingAndGlyphs">3 Nov 16:00</text>
<text x="134.68" y="636.70" class="t" textLength="34.84" lengthAdjust="spacingAndGlyphs">7 Nov 00:00</text>
<text x="178.87" y="636.70" class="t" textLength="34.84" lengthAdjust="spacingAndGlyphs">8 Nov 08:00</text>
<text x="223.06" y="636.70" class="t" textLength="34.84" lengthAdjust="spacingAndGlyphs">9 Nov 16:00</text>
<text x="267.25" y="636.70" class="t" textLength="38.43" lengthAdjust="spacingAndGlyphs">13 Nov 00:00</text>
<text x="311.44" y="636.70" class="t" textLength="38.43" lengthAdjust="spacingAndGlyphs">14 Nov 08:00</text>
<text x="355.64" y="636.70" class="t" textLength="38.43" lengthAdjust="spacingAndGlyphs">15 Nov 16:00</text>
<text x="399.83" y="636.70" class="t" textLength="38.43" lengthAdjust="spacingAndGlyphs">17 Nov 00:00</text>
<text x="444.02" y="636.70" class="t" textLength="38.43" lengthAdjust="spacingAndGlyphs">20 Nov 08:00</text>
<text x="488.21" y="636.70" class="t" textLength="38.43" lengthAdjust="spacingAndGlyphs">21 Nov 16:00</text>
<text x="532.40" y="636.70" class="t" textLength="38.43" lengthAdjust="spacingAndGlyphs">23 Nov 00:00</text>
<text x="576.60" y="636.70" class="t" textLength="38.43" lengthAdjust="spacingAndGlyphs">24 Nov 08:00</text>
<text x="620.79" y="636.70" class="t" textLength="38.43" lengthAdjust="spacingAndGlyphs">27 Nov 16:00</text>
<text x="664.98" y="636.70" class="t" textLength="38.43" lengthAdjust="spacingAndGlyphs">29 Nov 00:00</text>
<text x="709.17" y="636.70" class="t" textLength="38.43" lengthAdjust="spacingAndGlyphs">30 Nov 08:00</text>
<text x="753.36" y="636.70" class="t" textLength="34.84" lengthAdjust="spacingAndGlyphs">1 Dec 16:00</text>
<text x="797.56" y="636.70" class="t" textLength="34.84" lengthAdjust="spacingAndGlyphs">5 Dec 00:00</text>
<text x="841.75" y="636.70" class="t" textLength="34.84" lengthAdjust="spacingAndGlyphs">6 Dec 08:00</text>
<text x="885.94" y="636.70" class="t" textLength="34.84" lengthAdjust="spacingAndGlyphs">7 Dec 16:00</text>
<text x="930.13" y="636.70" class="t" textLength="37.95" lengthAdjust="spacingAndGlyphs">11 Dec 00:00</text>
<text x="974.32" y="636.70" class="t" textLength="38.43" lengthAdjust="spacingAndGlyphs">12 Dec 08:00</text>
<text x="1018.52" y="636.70" class="t" textLength="38.43" lengthAdjust="spacingAndGlyphs">13 Dec 16:00</text>
<text x="1062.71" y="636.70" class="t" textLength="38.43" lengthAdjust="spacingAndGlyphs">15 Dec 00:00</text>
<text x="1106.90" y="636.70" class="t" textLength="38.43" lengthAdjust="spacingAndGlyphs">18 Dec 08:00</text>
<text x="1151.09" y="636.70" class="t" textLength="38.43" lengthAdjust="spacingAndGlyphs">19 Dec 16:00</text>
<text x="1195.28" y="636.70" class="t" textLength="38.43" lengthAdjust="spacingAndGlyphs">21 Dec 00:00</text>
<path d="M1.70 628V631M45.89 628V631M90.08 628V631M134.28 628V631M178.47 628V631M222.66 628V631M266.85 628V631M311.04 628V631M355.24 628V631M399.43 628V631M443.62 628V631M487.81 628V631M532.00 628V631M576.20 628V631M620.39 628V631M664.58 628V631M708.77 628V631M752.96 628V631M797.16 628V631M841.35 628V631M885.54 628V631M929.73 628V631M973.92 628V631M1018.12 628V631M1062.31 628V631M1106.50 628V631M1150.69 628V631M1194.88 628V631" stroke="#5a5a5a" stroke-width="1" fill="none"/>
<text x="4.40" y="8.90" class="t" textLength="99.18" lengthAdjust="spacingAndGlyphs">EURUSD., H4:&#160; Euro vs US Dollar</text>
<text x="4.20" y="464.10" class="t" textLength="39.37" lengthAdjust="spacingAndGlyphs">RSI(14) 52.83</text>
<text x="4.20" y="555.00" class="t" textLength="37.27" lengthAdjust="spacingAndGlyphs">AO 0.001218</text>
</svg>
</body></html>
